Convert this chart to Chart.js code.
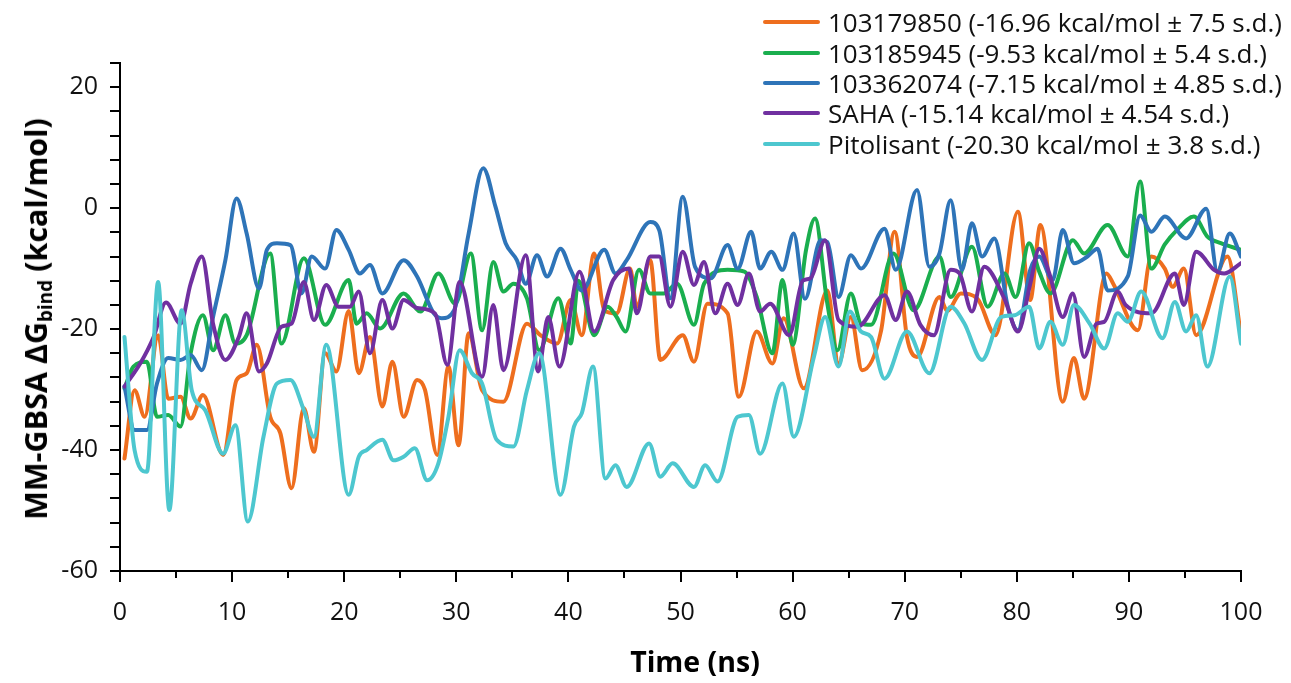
<!DOCTYPE html>
<html>
<head>
<meta charset="utf-8">
<title>MM-GBSA binding free energy</title>
<script src="https://cdn.jsdelivr.net/npm/chart.js@4.4.1/dist/chart.umd.min.js"></script>
<style>
  body { margin: 0; background: #fff; font-family: "Open Sans", sans-serif; }
  #wrap { position: relative; width: 1291px; height: 683px; }
  #legend { position: absolute; left: 763px; top: 7px; }
  .row { display: flex; align-items: center; height: 30.4px; }
  .swatch { width: 57px; height: 4px; margin-right: 8px; border-radius: 2px; }
  .label { font-size: 26px; line-height: 30px; color: #111; white-space: nowrap; }
  #ytitle { position: absolute; left: 35px; top: 319px; transform: translate(-50%, -50%) rotate(-90deg);
            font-weight: 700; font-size: 30.5px; line-height: 30px; white-space: nowrap; color: #000; }
  #ytitle sub { font-size: 0.62em; vertical-align: -0.25em; line-height: 0; }
  #xtitle { position: absolute; left: 695px; top: 647px; transform: translateX(-50%);
            font-weight: 700; font-size: 28.5px; line-height: 28px; white-space: nowrap; color: #000; }
</style>
</head>
<body>
<div id="wrap">
  <canvas id="energyChart" width="1291" height="683"></canvas>
  <div id="legend"></div>
  <div id="ytitle">MM-GBSA ΔG<sub>bind</sub> (kcal/mol)</div>
  <div id="xtitle">Time (ns)</div>
</div>
<script>
// series labels
const seriesNames = [
    '103179850 (-16.96 kcal/mol ± 7.5 s.d.)',
    '103185945 (-9.53 kcal/mol ± 5.4 s.d.)',
    '103362074 (-7.15 kcal/mol ± 4.85 s.d.)',
    'SAHA (-15.14 kcal/mol ± 4.54 s.d.)',
    'Pitolisant (-20.30 kcal/mol ± 3.8 s.d.)'
];
const seriesColors = ['#ee6e1e', '#1aae4e', '#2e74b8', '#7030a0', '#4dc7cf'];

// axis ticks
const xTicks = [0, 10, 20, 30, 40, 50, 60, 70, 80, 90, 100];
const yTicks = [-60, -40, -20, 0, 20];

// 103179850
const orangeTime = [0.4, 1.3, 2.2, 3.4, 4.3, 5.4, 6.3, 7.4, 9.2, 10.4, 11.3, 12.2, 13.4, 14.3, 15.3, 16.4, 17.3, 18.3, 19.3, 20.4,
    21.3, 22.3, 23.4, 24.3, 25.3, 26.5, 27.2, 28.3, 29.3, 30.2, 31.1, 32.3, 34.2, 36.3, 37.5, 39.0, 40.2, 41.2, 42.3, 43.2,
    44.3, 45.5, 46.1, 47.3, 48.2, 50.2, 51.2, 52.4, 54.2, 55.2, 56.8, 58.2, 59.2, 61.0, 63.1, 64.1, 65.2, 66.2, 67.9, 69.1,
    70.2, 71.1, 73.1, 73.8, 75.0, 76.5, 78.1, 80.1, 81.2, 82.1, 84.1, 85.1, 86.0, 88.0, 88.6, 90.8, 92.0, 93.2, 93.9, 94.9,
    96.0, 98.8, 100];
const orangeValues = [-41.4, -30.1, -34.5, -21, -31.5, -31.2, -34.8, -30.9, -40.8, -28.4, -27.3, -22.6, -34.5, -37.2, -46.3, -33.1, -40.3, -24, -27, -17,
    -27.3, -21.3, -32.8, -25.4, -34.5, -28.4, -30, -40.8, -26.2, -39.2, -20.7, -30.1, -32, -19.1, -21, -22.4, -15.2, -21, -7.5, -16.9,
    -17.4, -10, -16.3, -8.6, -25.1, -21, -25.4, -15.8, -17.4, -31.2, -20.4, -25.7, -18.2, -29.8, -13.6, -25.7, -18, -26.8, -20.2, -3.9,
    -21.3, -24.6, -14.7, -17, -14.1, -15, -21, -0.6, -15.2, -2.8, -32, -24.8, -31.5, -10.8, -12.5, -20.2, -8, -10, -13, -10,
    -21, -8, -21];

// 103185945
const greenTime = [0.4, 1.2, 2.4, 3.3, 4.3, 5.4, 6.3, 7.4, 8.3, 9.4, 10.3, 11.3, 13.4, 14.4, 16.4, 18.3, 20.4, 21.1, 22.0, 23.2,
    25.3, 26.8, 28.4, 29.9, 31.3, 32.3, 33.3, 34.2, 35.1, 36.3, 37.4, 39.1, 40.2, 40.9, 42.3, 43.5, 44.3, 45.1, 46.3, 47.3,
    48.5, 49.7, 51.2, 52.1, 54.2, 55.7, 56.8, 58.2, 59.1, 60.0, 61.2, 62.0, 63.1, 64.0, 65.2, 66.1, 67.0, 69.0, 70.8, 73.1,
    74.1, 76.0, 77.4, 78.9, 79.9, 81.1, 82.0, 83.0, 85.0, 86.0, 88.1, 89.9, 91.0, 92.0, 93.2, 94.3, 95.8, 97.0, 98.2, 100];
const greenValues = [-29.8, -26.2, -25.4, -34.5, -34.2, -36.1, -24, -17.7, -23.5, -17.7, -22.4, -21, -7.5, -22.4, -8.3, -19.3, -11.9, -19.1, -17.4, -19.9,
    -14.1, -17.1, -10.8, -15.8, -7.5, -20.2, -8.9, -13.8, -12.5, -14.9, -23.5, -14.9, -22.4, -12, -21, -16.3, -18, -20.4, -10.2, -14.1,
    -14.1, -12.5, -19.3, -12.5, -10.2, -10.5, -14.7, -24, -11.9, -22.6, -6.9, -1.7, -15.8, -23.5, -14.1, -19.1, -19.3, -7.5, -16.9, -8,
    -14.7, -6.4, -16.3, -10.8, -14.7, -5.8, -10.5, -14.1, -5.3, -7.5, -2.8, -8, 4.4, -10, -6, -3.6, -1.4, -4.7, -5.8, -6.9];

// 103362074
const blueTime = [0.4, 1.3, 2.4, 3.3, 4.3, 5.4, 6.3, 7.3, 8.3, 9.4, 10.4, 11.3, 12.4, 13.1, 14.0, 15.2, 16.2, 17.1, 18.3, 19.3,
    20.4, 21.4, 22.3, 23.4, 25.3, 26.5, 28.0, 28.7, 29.8, 31.1, 32.4, 33.5, 34.4, 35.4, 36.2, 37.2, 38.1, 39.3, 40.2, 41.2,
    43.2, 44.2, 45.2, 47.3, 48.1, 49.1, 50.2, 51.3, 52.7, 54.2, 55.1, 56.3, 57.1, 58.1, 59.1, 60.1, 61.1, 62.5, 63.1, 64.1,
    65.2, 66.1, 68.2, 69.2, 71.1, 72.2, 73.1, 74.1, 75.1, 76.0, 76.9, 78.0, 79.2, 80.1, 81.2, 82.0, 83.2, 84.1, 85.1, 86.3,
    87.2, 88.1, 89.9, 91.0, 92.0, 93.2, 95.1, 96.9, 97.9, 99.0, 100];
const blueValues = [-29.5, -36.7, -36.7, -29, -24.8, -25.1, -24.3, -26.8, -18, -8.6, 1.6, -4.2, -13.3, -6.9, -5.8, -6.1, -14.1, -8, -10, -3.6,
    -6.9, -10.8, -9.4, -14.1, -8.6, -11.3, -17.4, -18.2, -16.9, -4.2, 6.6, 0.2, -5.8, -8.6, -12.5, -7.8, -11.3, -6.7, -10.2, -13.6,
    -6.9, -10.8, -8.6, -2.3, -3.6, -14.9, 1.9, -9.7, -11.6, -6.1, -10, -3.9, -10, -7.2, -10.2, -4.2, -15, -5.3, -5.6, -14.7,
    -7.8, -10, -3.4, -10.2, 3, -9.7, -7.5, 1.3, -10.2, -2.5, -8, -5, -16.3, -20.2, -10.2, -8, -11.9, -3.6, -9.1, -8,
    -6.7, -13.6, -11.3, -1.2, -3.9, -1.4, -5, -0.1, -10.5, -4.2, -8];

// SAHA
const purpleTime = [0.4, 1.8, 3.0, 4.1, 5.4, 6.3, 7.3, 8.3, 9.4, 10.6, 11.3, 12.4, 13.1, 14.4, 15.3, 16.4, 17.3, 18.4, 19.5, 20.5,
    21.3, 22.3, 23.4, 24.3, 25.3, 26.5, 28.1, 29.2, 30.3, 32.3, 33.3, 34.2, 36.2, 37.3, 38.2, 39.2, 41.0, 42.3, 44.0, 45.4,
    46.1, 47.3, 48.1, 49.1, 50.2, 51.2, 52.1, 53.1, 54.2, 55.1, 56.1, 57.1, 58.0, 59.7, 60.9, 61.6, 62.9, 64.1, 65.8, 68.2,
    69.2, 70.2, 71.4, 72.6, 74.1, 74.9, 76.0, 77.1, 78.9, 80.1, 81.2, 82.0, 82.9, 84.1, 85.0, 86.0, 87.1, 87.8, 89.0, 89.7,
    92.0, 94.1, 94.9, 96.0, 97.6, 98.5, 100];
const purpleValues = [-29.5, -25.7, -21.3, -15.6, -19.1, -12.5, -8, -19.1, -25.1, -21.3, -17.4, -27, -25.7, -19.6, -19.1, -12.2, -18.5, -12.7, -16.3, -16.3,
    -13.8, -24, -15.2, -19.9, -15.2, -16.5, -17.4, -25.9, -12.2, -27.9, -16, -26.8, -7.8, -27, -18, -26.2, -10.5, -20.4, -11.9, -10,
    -17.4, -8, -8, -16.3, -7.2, -12.7, -8.9, -17.4, -12.5, -16, -10.8, -17.1, -15.8, -21, -12, -11.6, -5.3, -18.5, -19.6, -14.4,
    -18.5, -13.8, -19.3, -21, -10.2, -10.8, -17.1, -9.7, -15, -20.4, -12.5, -6.7, -10.8, -18, -14.1, -24.6, -19.1, -18.8, -13.8, -16,
    -17.4, -10.8, -16, -7.2, -10.2, -10.8, -9.1];

// Pitolisant
const cyanTime = [0.4, 1.3, 2.4, 3.4, 4.4, 5.5, 6.4, 7.6, 9.2, 10.3, 11.4, 12.8, 14.0, 15.2, 16.4, 17.3, 18.4, 20.4, 21.3, 22.0,
    23.4, 24.4, 25.3, 26.3, 27.4, 28.4, 29.3, 30.3, 31.4, 32.3, 33.6, 35.1, 36.3, 37.4, 39.3, 40.5, 41.2, 42.2, 43.3, 44.2,
    45.2, 47.2, 48.2, 49.3, 51.2, 52.2, 53.3, 55.1, 56.1, 57.1, 59.1, 60.1, 61.9, 62.9, 64.1, 65.1, 66.1, 67.0, 68.2, 70.2,
    72.2, 74.1, 75.3, 76.9, 78.6, 79.8, 81.1, 82.0, 83.0, 84.1, 85.1, 86.5, 87.8, 89.0, 89.9, 91.1, 93.0, 94.1, 95.1, 96.0,
    97.0, 99.0, 100];
const cyanValues = [-21.3, -40, -43.6, -12.2, -49.9, -16.9, -30.1, -33.4, -40.6, -35.9, -51.8, -37.8, -29, -28.4, -33.4, -37.8, -22.6, -47.4, -41.1, -40,
    -38.3, -41.7, -41.1, -39.7, -45, -42.2, -34.5, -23.5, -27.3, -29, -38.3, -39.4, -30.1, -24, -47.4, -36.1, -33.9, -26.2, -44.7, -42.5,
    -46.1, -38.9, -44.4, -42.2, -46.1, -42.5, -45.2, -34.5, -34.2, -40.6, -29, -37.8, -24.6, -18, -26.2, -17.1, -20.4, -21.3, -28.2, -20.4,
    -27.3, -16.3, -19, -25.1, -18, -17.7, -16.3, -23.2, -18.8, -22.6, -16, -19.1, -23.2, -17.4, -18.8, -13.8, -21.5, -15.5, -20.4, -17.7,
    -26.2, -11.3, -22.4];

const seriesTimes = [orangeTime, greenTime, blueTime, purpleTime, cyanTime];
const seriesValues = [orangeValues, greenValues, blueValues, purpleValues, cyanValues];

function toPoints(times, values) {
    return times.map((t, i) => ({ x: t, y: values[i] }));
}

// tick marks on both axes (major 20 / minor 4 on y, major 10 / minor 5 on x)
const axisTickMarks = {
    id: 'axisTickMarks',
    afterDraw(chart) {
        const { ctx, chartArea, scales } = chart;
        const x = scales.x, y = scales.y;
        ctx.save();
        ctx.strokeStyle = '#000';
        ctx.lineWidth = 2;
        ctx.beginPath();
        for (let v = y.min; v <= y.max + 0.001; v += 4) {
            const py = Math.round(y.getPixelForValue(v));
            ctx.moveTo(chartArea.left - 10, py);
            ctx.lineTo(chartArea.left, py);
        }
        for (let v = x.min; v <= x.max + 0.001; v += 5) {
            const px = Math.round(x.getPixelForValue(v));
            const len = v % 10 === 0 ? 11 : 7;
            ctx.moveTo(px, chartArea.bottom);
            ctx.lineTo(px, chartArea.bottom + len);
        }
        ctx.stroke();
        ctx.restore();
    }
};

const datasets = seriesNames.map((name, i) => ({
    label: name,
    data: toPoints(seriesTimes[i], seriesValues[i]),
    borderColor: seriesColors[i],
    borderWidth: 4,
    pointRadius: 0,
    fill: false,
    cubicInterpolationMode: 'monotone',
    borderJoinStyle: 'round',
    borderCapStyle: 'round',
    order: seriesNames.length - i
}));

new Chart(document.getElementById('energyChart'), {
    type: 'line',
    data: { datasets: datasets },
    options: {
        responsive: false,
        animation: false,
        layout: { padding: { left: 0, right: 50, top: 63, bottom: 0 } },
        plugins: { legend: { display: false }, tooltip: { enabled: false } },
        scales: {
            x: {
                type: 'linear',
                min: 0,
                max: 100,
                afterFit(scale) { scale.height = 112; },
                afterBuildTicks(scale) { scale.ticks = xTicks.map(v => ({ value: v })); },
                grid: { drawOnChartArea: false, drawTicks: false, color: 'rgba(0,0,0,0)' },
                border: { display: true, color: '#000', width: 2 },
                ticks: {
                    padding: 27,
                    color: '#111',
                    maxRotation: 0,
                    font: { family: 'Open Sans', size: 25 }
                }
            },
            y: {
                type: 'linear',
                min: -60,
                max: 24,
                afterFit(scale) { scale.width = 120; },
                afterBuildTicks(scale) { scale.ticks = yTicks.map(v => ({ value: v })); },
                grid: { drawOnChartArea: false, drawTicks: false, color: 'rgba(0,0,0,0)' },
                border: { display: true, color: '#000', width: 2 },
                ticks: {
                    padding: 22,
                    color: '#111',
                    font: { family: 'Open Sans', size: 25 }
                }
            }
        }
    },
    plugins: [axisTickMarks]
});

// legend
const legend = document.getElementById('legend');
seriesNames.forEach((name, i) => {
    const row = document.createElement('div');
    row.className = 'row';
    row.innerHTML = `<span class="swatch" style="background:${seriesColors[i]}"></span><span class="label">${name}</span>`;
    legend.appendChild(row);
});
</script>
</body>
</html>
